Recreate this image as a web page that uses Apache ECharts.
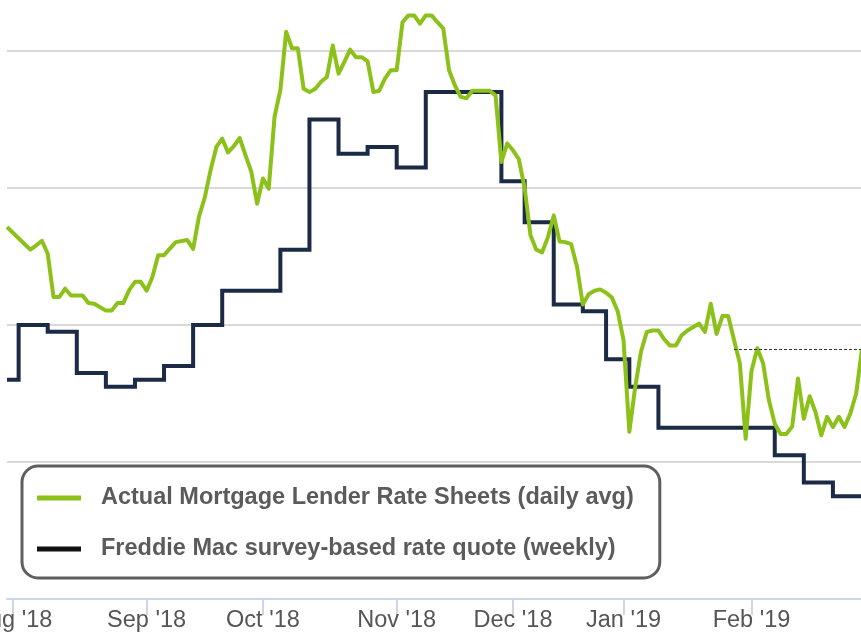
<!DOCTYPE html>
<html><head><meta charset="utf-8">
<script src="https://cdn.jsdelivr.net/npm/echarts@6/dist/echarts.min.js"></script>
<style>html,body{margin:0;padding:0;background:#fff}#c{width:861px;height:642px}</style>
</head><body><div id="c"></div>
<script>
// ---- Data ----
const firstDay = '2018-07-31';
const lastDay = '2019-02-28';
const skippedDays = ['2018-11-22', '2018-11-23', '2018-12-05', '2018-12-25', '2019-01-01'];
const monthLabels = {
  '2018-08': "Aug '18", '2018-09': "Sep '18", '2018-10': "Oct '18", '2018-11': "Nov '18",
  '2018-12': "Dec '18", '2019-01': "Jan '19", '2019-02': "Feb '19"
};
const seriesNames = ['Actual Mortgage Lender Rate Sheets (daily avg)', 'Freddie Mac survey-based rate quote (weekly)'];

const lenderDates = [
 '2018-07-31','2018-08-06','2018-08-07','2018-08-08','2018-08-09','2018-08-10','2018-08-13','2018-08-14','2018-08-15','2018-08-17',
 '2018-08-20','2018-08-21','2018-08-23','2018-08-24','2018-08-27','2018-08-28','2018-08-29','2018-08-30','2018-08-31','2018-09-03',
 '2018-09-04','2018-09-05','2018-09-06','2018-09-10','2018-09-12','2018-09-13','2018-09-14','2018-09-17','2018-09-18','2018-09-19',
 '2018-09-20','2018-09-21','2018-09-24','2018-09-25','2018-09-26','2018-09-27','2018-09-28','2018-10-01','2018-10-02','2018-10-03',
 '2018-10-04','2018-10-05','2018-10-08','2018-10-09','2018-10-10','2018-10-11','2018-10-12','2018-10-15','2018-10-16','2018-10-17',
 '2018-10-18','2018-10-19','2018-10-22','2018-10-23','2018-10-24','2018-10-25','2018-10-26','2018-10-29','2018-10-30','2018-10-31',
 '2018-11-01','2018-11-02','2018-11-05','2018-11-06','2018-11-07','2018-11-08','2018-11-09','2018-11-12','2018-11-13','2018-11-14',
 '2018-11-15','2018-11-16','2018-11-19','2018-11-20','2018-11-21','2018-11-26','2018-11-27','2018-11-28','2018-11-29','2018-11-30',
 '2018-12-03','2018-12-04','2018-12-06','2018-12-07','2018-12-10','2018-12-11','2018-12-12','2018-12-13','2018-12-14','2018-12-17',
 '2018-12-18','2018-12-19','2018-12-20','2018-12-21','2018-12-24','2018-12-26','2018-12-27','2018-12-28','2018-12-31','2019-01-02',
 '2019-01-03','2019-01-04','2019-01-07','2019-01-08','2019-01-09','2019-01-10','2019-01-11','2019-01-14','2019-01-15','2019-01-16',
 '2019-01-17','2019-01-18','2019-01-21','2019-01-22','2019-01-23','2019-01-24','2019-01-25','2019-01-28','2019-01-29','2019-01-30',
 '2019-01-31','2019-02-01','2019-02-04','2019-02-05','2019-02-06','2019-02-07','2019-02-08','2019-02-11','2019-02-12','2019-02-13',
 '2019-02-14','2019-02-15','2019-02-18','2019-02-19','2019-02-20','2019-02-21','2019-02-22','2019-02-25','2019-02-26','2019-02-27',
 '2019-02-28'
];
const lenderRates = [
 4.743,4.710,4.716,4.723,4.704,4.641,4.641,4.653,4.643,4.643,
 4.632,4.631,4.621,4.621,4.632,4.632,4.651,4.663,4.663,4.650,
 4.670,4.702,4.702,4.721,4.724,4.711,4.758,4.786,4.826,4.860,
 4.872,4.852,4.861,4.873,4.848,4.824,4.777,4.814,4.799,4.904,
 4.943,5.028,5.004,5.004,4.945,4.940,4.945,4.955,4.962,5.008,
 4.967,4.984,5.002,4.991,4.991,4.985,4.940,4.942,4.960,4.972,
 4.972,5.042,5.052,5.052,5.040,5.052,5.052,5.042,5.033,4.972,
 4.950,4.933,4.931,4.942,4.942,4.942,4.942,4.935,4.838,4.865,
 4.855,4.842,4.800,4.731,4.710,4.706,4.728,4.760,4.722,4.721,
 4.718,4.685,4.630,4.645,4.650,4.652,4.647,4.640,4.620,4.578,
 4.444,4.509,4.561,4.590,4.592,4.592,4.579,4.570,4.570,4.585,
 4.592,4.597,4.602,4.590,4.631,4.587,4.613,4.613,4.578,4.544,
 4.434,4.533,4.566,4.544,4.490,4.456,4.441,4.441,4.452,4.522,
 4.463,4.496,4.473,4.439,4.466,4.451,4.466,4.451,4.471,4.500,
 4.565
];

const freddieDates = [
 '2018-07-31','2018-08-02','2018-08-09','2018-08-16','2018-08-23','2018-08-30','2018-09-06','2018-09-13','2018-09-20','2018-09-27',
 '2018-10-04','2018-10-11','2018-10-18','2018-10-25','2018-11-01','2018-11-08','2018-11-15','2018-11-21','2018-11-29','2018-12-06',
 '2018-12-13','2018-12-20','2018-12-27','2019-01-03','2019-01-10','2019-01-17','2019-01-24','2019-01-31','2019-02-07','2019-02-14',
 '2019-02-21','2019-02-28'
];
const freddieRates = [
 4.52,4.60,4.59,4.53,4.51,4.52,4.54,4.60,4.65,4.65,
 4.71,4.90,4.85,4.86,4.83,4.94,4.94,4.94,4.81,4.75,
 4.63,4.62,4.55,4.51,4.45,4.45,4.45,4.45,4.41,4.37,
 4.35,4.35
];
const lastRateMarkStart = '2019-01-29';

// ---- trading-day categories ----
function buildDays() {
  const out = [];
  let t = Date.parse(firstDay + 'T00:00:00Z');
  const end = Date.parse(lastDay + 'T00:00:00Z');
  while (t <= end) {
    const d = new Date(t);
    const w = d.getUTCDay();
    const s = d.toISOString().slice(0, 10);
    if (w !== 0 && w !== 6 && skippedDays.indexOf(s) < 0) out.push(s);
    t += 86400000;
  }
  return out;
}
const tradingDays = buildDays();
function isMonthStart(i) {
  return i > 0 && tradingDays[i].slice(0, 7) !== tradingDays[i - 1].slice(0, 7);
}

const lenderData = lenderDates.map((d, i) => [d, lenderRates[i]]);
const freddieData = freddieDates.map((d, i) => [d, freddieRates[i]]);
const lastRate = lenderRates[lenderRates.length - 1];

const GREEN = '#8cc11a', NAVY = '#1b2b45';
const FONT = '"Liberation Sans", Arial, sans-serif';
const chart = echarts.init(document.getElementById('c'), null, { renderer: 'canvas' });
chart.setOption({
  animation: false,
  backgroundColor: '#fff',
  grid: { left: 7, width: 855, top: -86, height: 685, containLabel: false, outerBoundsMode: 'none' },
  xAxis: {
    type: 'category', data: tradingDays, boundaryGap: false,
    axisLine: { lineStyle: { color: '#ccd6eb', width: 2 } },
    axisTick: { interval: (i) => isMonthStart(i), length: 16, lineStyle: { color: '#ccd6eb', width: 2 } },
    axisLabel: {
      interval: (i) => isMonthStart(i),
      formatter: (v, i) => isMonthStart(i) ? monthLabels[v.slice(0, 7)] : '',
      fontFamily: FONT, fontSize: 23.5, color: '#555', margin: 10
    },
    splitLine: { show: false }
  },
  yAxis: {
    type: 'value', min: 4.2, max: 5.2, interval: 0.2,
    axisLabel: { show: false }, axisLine: { show: false }, axisTick: { show: false },
    splitLine: { lineStyle: { color: '#d9d9d9', width: 2 } }
  },
  legend: {
    orient: 'vertical', left: 22, top: 466, selectedMode: false,
    data: [
      { name: seriesNames[0], itemStyle: { color: GREEN } },
      { name: seriesNames[1], itemStyle: { color: '#111' } }
    ],
    icon: 'rect', itemWidth: 44, itemHeight: 5, itemGap: 21,
    padding: [17, 26, 14, 15],
    borderColor: '#5f5f5f', borderWidth: 3, borderRadius: 16, backgroundColor: '#fff',
    textStyle: { fontFamily: FONT, fontWeight: 'bold', fontSize: 23.5, color: '#5b5b5b', padding: [0, 0, 0, 15], lineHeight: 30 }
  },
  series: [
    {
      name: seriesNames[1], type: 'line', step: 'end', data: freddieData, symbol: 'none', z: 2,
      lineStyle: { color: NAVY, width: 4, join: 'miter' }, itemStyle: { color: NAVY }
    },
    {
      name: seriesNames[0], type: 'line', data: lenderData, symbol: 'none', z: 3,
      lineStyle: { color: GREEN, width: 4, join: 'round' }, itemStyle: { color: GREEN },
      markLine: {
        silent: true, symbol: ['none', 'none'], label: { show: false },
        lineStyle: { color: '#333', width: 1, type: [3, 2] },
        data: [[{ coord: [lastRateMarkStart, lastRate] }, { coord: [lastDay, lastRate] }]]
      }
    }
  ]
});
</script>
</body></html>
